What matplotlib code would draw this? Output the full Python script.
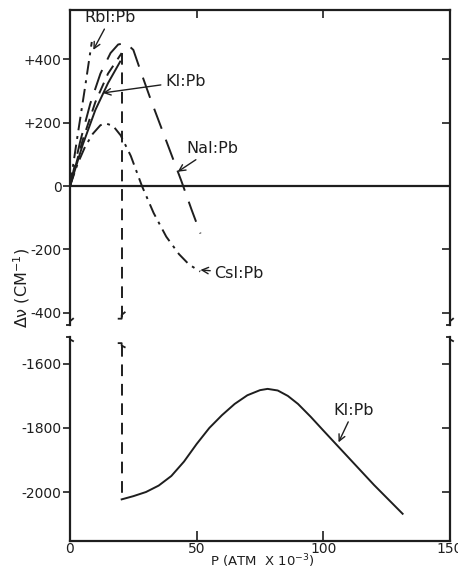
import matplotlib.pyplot as plt
import numpy as np

plt.rcParams['axes.unicode_minus'] = False
plt.rcParams['font.family'] = 'DejaVu Sans'

INK = '#1e1e1e'

# pressure in ATM x 10^-3, shift in cm^-1
rbi_p = [0, 3, 6, 8.6]
rbi_v = [0, 160, 315, 455]

ki_dash_p = [0, 5, 10, 15, 20.4]
ki_dash_v = [0, 145, 265, 355, 420]

ki_solid_p = [0, 5, 10, 15, 19.8]
ki_solid_v = [0, 130, 240, 325, 393]

nai_p = [0, 4, 8, 12, 16, 19, 22, 25, 28, 32, 36, 40, 44, 48, 51.5]
nai_v = [0, 140, 260, 355, 420, 447, 452, 430, 360, 270, 185, 100, 15, -75, -150]

csi_p = [0, 3, 6, 9, 12, 14, 17, 20, 24, 28.4, 33, 38, 43, 47, 51.4]
csi_v = [0, 70, 125, 165, 192, 198, 190, 160, 95, 0, -85, -160, -215, -248, -270]

ki_high_p = [20.4, 25, 30, 35, 40, 45, 50, 55, 60, 65, 70, 75, 78, 82, 86, 90,
             95, 100, 110, 120, 131.3]
ki_high_v = [-2023, -2013, -2000, -1980, -1950, -1905, -1850, -1800, -1760, -1725,
             -1698, -1682, -1678, -1683, -1700, -1725, -1765, -1808, -1893, -1978, -2068]

top_ticks = [-400, -200, 0, 200, 400]
top_labels = ['-400', '-200', '0', '+200', '+400']
bot_ticks = [-2000, -1800, -1600]
bot_labels = ['-2000', '-1800', '-1600']
x_ticks = [0, 50, 100, 150]

fig = plt.figure(figsize=(4.58, 5.72), dpi=100)
ax_top = fig.add_axes([70/458, 1 - 325/572, 380/458, 315/572])
ax_bot = fig.add_axes([70/458, 1 - 541/572, 380/458, 204/572], sharex=ax_top)

ax_top.set_xlim(0, 150)
ax_top.set_ylim(-439, 556)
ax_bot.set_ylim(-2153, -1516)

for ax in (ax_top, ax_bot):
    for s in ax.spines.values():
        s.set_linewidth(1.6)
        s.set_color(INK)
ax_top.spines['bottom'].set_visible(False)
ax_bot.spines['top'].set_visible(False)

lw = 1.4
ax_top.axhline(0, color=INK, lw=1.6)
ax_top.plot(rbi_p, rbi_v, color=INK, lw=lw, dashes=(7, 3, 1.5, 3))
ax_top.plot(ki_dash_p, ki_dash_v, color=INK, lw=lw, dashes=(6, 4))
ax_top.plot(ki_solid_p, ki_solid_v, color=INK, lw=lw)
ax_top.plot(nai_p, nai_v, color=INK, lw=lw, dashes=(11, 6))
ax_top.plot(csi_p, csi_v, color=INK, lw=lw, dashes=(7, 3, 1.5, 3))

# vertical drop at the KI transition
x_jump = ki_dash_p[-1]
ax_top.plot([x_jump, x_jump], [ki_dash_v[-1], -420], color=INK, lw=lw, dashes=(6, 4))
ax_bot.plot([x_jump, x_jump], [-1540, ki_high_v[0]], color=INK, lw=lw, dashes=(6, 4))
ax_bot.plot(ki_high_p, ki_high_v, color=INK, lw=lw)

# ticks
ax_top.set_yticks(top_ticks, top_labels)
ax_bot.set_yticks(bot_ticks, bot_labels)
for ax in (ax_top, ax_bot):
    ax.tick_params(axis='y', direction='out', length=5, width=1.2, colors=INK,
                   labelsize=10, pad=1)
    tw = ax.twinx()
    tw.set_ylim(ax.get_ylim())
    tw.set_yticks(ax.get_yticks())
    tw.tick_params(axis='y', direction='in', length=6, width=1.2, colors=INK,
                   labelright=False)
    for s in tw.spines.values():
        s.set_visible(False)
ax_top.tick_params(axis='x', bottom=False, labelbottom=False, top=True,
                   direction='in', length=6, width=1.2, colors=INK)
ax_top.set_xticks(x_ticks)
ax_bot.tick_params(axis='x', direction='in', length=7, width=1.2, colors=INK,
                   labelsize=10, pad=1)

# break marks
def squiggle(ax, x, y, trans, up):
    s = 1 if up else -1
    xs = np.array([-0.008, 0.0, 0.0, 0.008])
    ys = np.array([0.0, 0.0, 0.012, 0.02]) * s
    ax.plot(x + xs, y + ys, transform=trans, color=INK, lw=1.3, clip_on=False)

for ax, y0, up in ((ax_top, 0.0, True), (ax_bot, 1.0, False)):
    ta = ax.transAxes
    squiggle(ax, 0.0, y0, ta, up)
    squiggle(ax, 1.0, y0, ta, up)
    xa = x_jump / 150
    squiggle(ax, xa, y0 + (0.02 if up else -0.03), ta, up)

# labels
fig.text(22/458, 1 - 288/572, 'Δν (CM$^{-1}$)', rotation=90, ha='center',
         va='center', fontsize=11.5, color=INK)
fig.text(262/458, 2/572, 'P (ATM  X 10$^{-3}$)', ha='center', va='bottom',
         fontsize=9.5, color=INK)

fs = 11.5
arrow = dict(arrowstyle='->', color=INK, lw=1.0, shrinkA=1, shrinkB=0)
ax_top.annotate('RbI:Pb', xy=(9.2, 430), xytext=(16, 532), ha='center', va='center',
                fontsize=fs, color=INK, arrowprops=arrow)
ax_top.annotate('KI:Pb', xy=(13, 294), xytext=(37.5, 330), ha='left', va='center',
                fontsize=fs, color=INK, arrowprops=arrow)
ax_top.annotate('NaI:Pb', xy=(42.5, 45), xytext=(46, 118), ha='left', va='center',
                fontsize=fs, color=INK, arrowprops=arrow)
ax_top.annotate('CsI:Pb', xy=(51.5, -265), xytext=(57, -275), ha='left', va='center',
                fontsize=fs, color=INK, arrowprops=arrow)
ax_bot.annotate('KI:Pb', xy=(106, -1845), xytext=(104, -1745), ha='left', va='center',
                fontsize=fs, color=INK, arrowprops=arrow)

fig.savefig('out.png', dpi=100)
